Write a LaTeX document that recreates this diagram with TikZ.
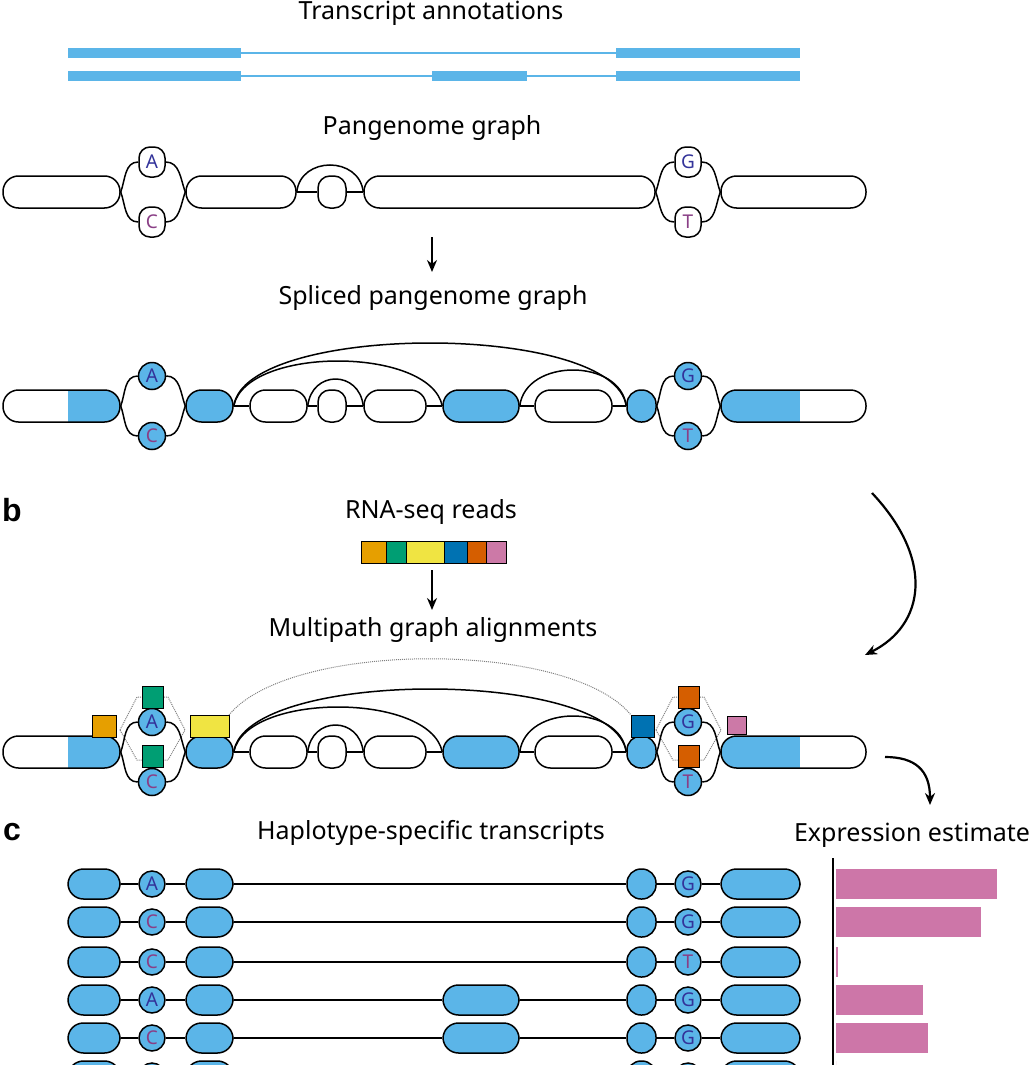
\documentclass[tikz,border=0pt]{standalone}
\usepackage{fontspec}
\setmainfont{Noto Sans}
\newfontfamily\labfont{Liberation Sans}
\usetikzlibrary{arrows.meta}
\definecolor{bl}{HTML}{5BB5E8}
\definecolor{lA}{HTML}{33339A}
\definecolor{lC}{HTML}{8A3F86}
\definecolor{pk}{HTML}{CD76A8}
\definecolor{cO}{HTML}{E69F00}
\definecolor{cG}{HTML}{009E73}
\definecolor{cY}{HTML}{F0E442}
\definecolor{cB}{HTML}{0072B2}
\definecolor{cR}{HTML}{D55E00}
\definecolor{cP}{HTML}{CC79A7}
\begin{document}
\begin{tikzpicture}[x=1pt,y=-1pt,line width=1.5pt,
 pill/.style={draw,rounded corners=15.5pt,minimum height=32pt,inner sep=0pt,fill=white},
 bpill/.style={pill,fill=bl},
 snp/.style={draw,rounded corners=11pt,minimum width=26pt,minimum height=30pt,inner sep=0pt,font=\fontsize{19}{19}\selectfont,fill=white},
 snpc/.style={draw,circle,minimum size=27pt,inner sep=0pt,fill=bl,font=\fontsize{19}{19}\selectfont},
 lbl/.style={font=\fontsize{25}{25}\selectfont},
 panel/.style={font=\labfont\fontsize{32}{32}\selectfont\bfseries},
 sq/.style={draw,line width=1pt,inner sep=0pt},
 arr/.style={-{Stealth[length=12pt,width=10pt]},line width=2.2pt},
 dots/.style={densely dotted,line width=1pt,gray}]
\useasboundingbox (0,0) rectangle (1031,1065);
% annotations
\node[lbl] (t1) at (431,13) {Transcript annotations};
\foreach \y in {53,76}{\draw[bl,line width=10pt] (68,\y) -- (241,\y); \draw[bl,line width=10pt] (616,\y) -- (800,\y);}
\draw[bl,line width=1.5pt] (241,53) -- (616,53);
\draw[bl,line width=1.5pt] (241,76) -- (616,76);
\draw[bl,line width=10pt] (432,76) -- (527,76);
% pangenome graph
\node[lbl] (t2) at (432,128) {Pangenome graph};
\node[pill,minimum width=117pt] (p1) at (61.5,192) {};
\node[snp,text=lA] (pA) at (152,162) {A};
\node[snp,text=lC] (pC) at (152,222) {C};
\node[pill,minimum width=110pt] (p2) at (241,192) {};
\node[pill,rounded corners=12pt,minimum width=28pt] (pb) at (332,192) {};
\node[pill,minimum width=291pt] (p3) at (509.5,192) {};
\node[snp,text=lA] (pG) at (688,162) {G};
\node[snp,text=lC] (pT) at (688,222) {T};
\node[pill,minimum width=145pt] (p4) at (793.5,192) {};
\foreach \a/\b/\c/\d in {p1/pA/pC/p2,p3/pG/pT/p4}{
 \draw (\a.east) to[out=70,in=180] (\b.west); \draw (\a.east) to[out=-70,in=180] (\c.west);
 \draw (\b.east) to[out=0,in=110] (\d.west); \draw (\c.east) to[out=0,in=-110] (\d.west);}
\draw (p2.east) -- (pb.west) (pb.east) -- (p3.west);
\draw (p2.east) .. controls +(4,-36) and +(-4,-36) .. (p3.west);
\draw[arr] (432,237) -- (432,272);
% spliced graph (macro)
\def\spliced#1#2{
 \node[pill,minimum width=117pt,path picture={\fill[bl,sharp corners] ([xshift=-52pt]path picture bounding box.north east) rectangle (path picture bounding box.south east);}] (#2n1) at (61.5,#1) {};
 \node[snpc,text=lA] (#2A) at (152,#1-30) {A};
 \node[snpc,text=lC] (#2C) at (152,#1+30) {C};
 \node[bpill,minimum width=47pt] (#2n2) at (209.5,#1) {};
 \node[pill,minimum width=57pt] (#2e1) at (278.5,#1) {};
 \node[pill,rounded corners=12pt,minimum width=28pt] (#2sb) at (332,#1) {};
 \node[pill,minimum width=62pt] (#2e2) at (395,#1) {};
 \node[bpill,minimum width=76pt] (#2ex) at (481,#1) {};
 \node[pill,minimum width=77pt] (#2e3) at (573.5,#1) {};
 \node[bpill,rounded corners=14pt,minimum width=29pt] (#2b2) at (641.5,#1) {};
 \node[snpc,text=lA] (#2G) at (688,#1-30) {G};
 \node[snpc,text=lC] (#2T) at (688,#1+30) {T};
 \node[pill,minimum width=145pt,path picture={\fill[bl,sharp corners] (path picture bounding box.north west) rectangle ([xshift=79pt]path picture bounding box.south west);}] (#2n4) at (793.5,#1) {};
 \foreach \a/\b/\c/\d in {#2n1/#2A/#2C/#2n2,#2b2/#2G/#2T/#2n4}{
  \draw (\a.east) to[out=70,in=180] (\b.west); \draw (\a.east) to[out=-70,in=180] (\c.west);
  \draw (\b.east) to[out=0,in=110] (\d.west); \draw (\c.east) to[out=0,in=-110] (\d.west);}
 \draw (#2n2.east) -- (#2e1.west) (#2e1.east) -- (#2sb.west) (#2sb.east) -- (#2e2.west) (#2e2.east) -- (#2ex.west) (#2ex.east) -- (#2e3.west) (#2e3.east) -- (#2b2.west);
 \draw (#2e1.east) .. controls +(4,-36) and +(-4,-36) .. (#2e2.west);
 \draw (#2n2.east) .. controls +(12,-84) and +(-12,-84) .. (#2b2.west);
 \draw (#2n2.east) .. controls +(12,-60) and +(-12,-60) .. (#2ex.west);
 \draw (#2ex.east) .. controls +(6,-48) and +(-6,-48) .. (#2b2.west);
}
\node[lbl] (t3) at (433,298) {Spliced pangenome graph};
\spliced{406}{s}
% b
\node[panel] (b) at (12,510) {b};
\node[lbl] (t4) at (431,512) {RNA-seq reads};
\foreach \x/\w/\c in {361/25/cO,386/20/cG,406/38/cY,444/23/cB,467/19/cR,486/20/cP}
 \fill[\c] (\x,541) rectangle ++(\w,22);
\draw[line width=1pt] (361,541) rectangle (506,563);
\foreach \x in {386,406,444,467,486} \draw[line width=1pt] (\x,541) -- (\x,563);
\draw[arr] (432,570) -- (432,610);
\node[lbl] (t5) at (433,630) {Multipath graph alignments};
\draw[dots] (120,730) -- (137,697) -- (168,697) -- (185,730) -- (168,760) -- (137,760) -- cycle;
\draw[dots] (656,730) -- (673,697) -- (704,697) -- (721,730) -- (704,760) -- (673,760) -- cycle;
\draw[dots] (229,715) .. controls (290,640) and (570,640) .. (631,715);
\spliced{752}{m}
\node[sq,fill=cO,minimum width=24pt,minimum height=22pt] (r1) at (104,726) {};
\node[sq,fill=cG,minimum width=21pt,minimum height=22pt] (r2) at (152.5,697) {};
\node[sq,fill=cG,minimum width=21pt,minimum height=22pt] (r3) at (152.5,756) {};
\node[sq,fill=cY,minimum width=39pt,minimum height=22pt] (r4) at (209.5,726) {};
\node[sq,fill=cB,minimum width=23pt,minimum height=22pt] (r5) at (642.5,726) {};
\node[sq,fill=cR,minimum width=21pt,minimum height=22pt] (r6) at (688.5,697) {};
\node[sq,fill=cR,minimum width=21pt,minimum height=22pt] (r7) at (688.5,756) {};
\node[sq,fill=cP,minimum width=19pt,minimum height=18pt] (r8) at (736.5,725) {};
\coordinate (a1s) at (872,493); \coordinate (a1e) at (865,655);
\draw[arr] (a1s) .. controls (935,560) and (925,625) .. (a1e);
\coordinate (a2s) at (885,757); \coordinate (a2e) at (930,805);
\draw[arr] (a2s) .. controls (915,757) and (930,770) .. (a2e);
% c
\node[panel] (c) at (12,832) {c};
\node[lbl] (t6) at (431,833) {Haplotype-specific transcripts};
\node[lbl,anchor=west] (t7) at (790,835) {Expression estimate};
\begin{scope}
\clip (0,0) rectangle (1031,1065);
\foreach \y/\l/\lc/\r/\rc/\ex/\bw [count=\i] in {884/A/lA/G/lA/0/161,922/C/lC/G/lA/0/145,962/C/lC/T/lC/0/2,1000/A/lA/G/lA/1/87,1038/C/lC/G/lA/1/92,1076//lA//lA/0/0}{
 \node[bpill,minimum width=52pt,minimum height=30pt] (h\i a) at (94,\y) {};
 \node[snpc,minimum size=26pt,text=\lc] (h\i l) at (152,\y) {\l};
 \node[bpill,minimum width=47pt,minimum height=30pt] (h\i b) at (209.5,\y) {};
 \node[bpill,rounded corners=14pt,minimum width=29pt,minimum height=30pt] (h\i c) at (641.5,\y) {};
 \node[snpc,minimum size=26pt,text=\rc] (h\i r) at (688,\y) {\r};
 \node[bpill,minimum width=79pt,minimum height=30pt] (h\i d) at (760.5,\y) {};
 \draw (h\i a) -- (h\i l) -- (h\i b);
 \draw (h\i c) -- (h\i r) -- (h\i d);
 \ifnum\ex=1
  \node[bpill,minimum width=76pt,minimum height=30pt] (h\i x) at (481,\y) {};
  \draw (h\i b) -- (h\i x) -- (h\i c);
 \else
  \draw (h\i b) -- (h\i c);
 \fi
 \fill[pk] (836,\y-15) rectangle ++(\bw,30);
}
\draw[line width=2pt] (833,858) -- (833,1065);
\end{scope}
\end{tikzpicture}
\end{document}
